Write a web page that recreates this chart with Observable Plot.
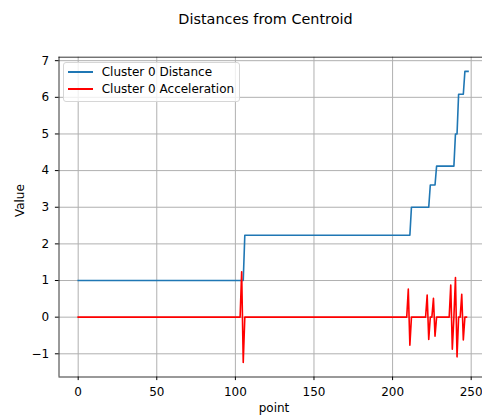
<!DOCTYPE html>
<html>
<head>
<meta charset="utf-8">
<script src="https://cdn.jsdelivr.net/npm/d3@7"></script>
<script src="https://cdn.jsdelivr.net/npm/@observablehq/plot@0.6"></script>
<style>
html, body { margin: 0; padding: 0; background: #fff; overflow: hidden; }
#wrap { position: relative; width: 482px; height: 417px; font-family: "DejaVu Sans", sans-serif; color: #000; }
#title { box-sizing: border-box; height: 40px; padding-top: 9px; padding-left: 49px; width: 482px; font-size: 14.4px; line-height: 20px; }
#title span { display: block; width: 433px; text-align: center; }
#chart svg { display: block; }
.legend-box { position: absolute; left: 63px; top: 62px; width: 177px; height: 40px; box-sizing: border-box;
  border: 1px solid #d6d6d6; border-radius: 3px; background: rgba(255,255,255,0.8); }
.sw { position: absolute; left: 68px; width: 25px; height: 2px; }
.lt { position: absolute; left: 101.7px; font-size: 12px; line-height: 14px; white-space: nowrap; }
</style>
</head>
<body>
<div id="wrap">
  <div id="title"><span>Distances from Centroid</span></div>
  <div id="chart"></div>
</div>
<script>
// Series: vertices of the polylines
const seriesNames = ["Cluster 0 Distance", "Cluster 0 Acceleration"];
const seriesColors = ["#1f77b4", "#ff0000"];

const distX = [0, 105, 106, 211, 212, 223, 224, 227, 228, 239, 240, 241, 242, 245, 246, 248];
const distY = [1, 1, 2.236, 2.236, 3, 3, 3.606, 3.606, 4.123, 4.123, 5, 5, 6.083, 6.083, 6.708, 6.708];

const accX = [0, 103, 104, 105, 106, 209, 210, 211, 212, 221, 222, 223, 224, 225, 226, 227, 228, 236, 237, 238, 239, 240, 241, 242, 243, 244, 245, 246, 247];
const accY = [0, 0, 1.236, -1.236, 0, 0, 0.764, -0.764, 0, 0, 0.606, -0.606, 0, 0, 0.517, -0.517, 0, 0, 0.877, -0.877, 0, 1.083, -1.083, 0, 0, 0.625, -0.625, 0, 0];

const xTicks = [0, 50, 100, 150, 200, 250];
const yTicks = [-1, 0, 1, 2, 3, 4, 5, 6, 7];
const xDomain = [-12.2, 257.2];
const yDomain = [-1.633, 7.095];
const xLabel = "point";
const yLabel = "Value";

const dist = distX.map((x, i) => ({x, y: distY[i]}));
const acc = accX.map((x, i) => ({x, y: accY[i]}));

const gridStyle = {stroke: "#b0b0b0", strokeOpacity: 1, strokeWidth: 1};
const lineStyle = {strokeWidth: 1.6, strokeLinecap: "square", strokeLinejoin: "round"};

const plot = Plot.plot({
  width: 482,
  height: 377,
  marginLeft: 58.5,
  marginRight: 0,
  marginTop: 16.7,
  marginBottom: 40.5,
  style: {fontFamily: "DejaVu Sans, sans-serif", fontSize: "12px", color: "#000", background: "#fff", overflow: "visible"},
  x: {domain: xDomain, label: null},
  y: {domain: yDomain, label: null},
  marks: [
    Plot.gridX(xTicks, gridStyle),
    Plot.gridY(yTicks, gridStyle),
    Plot.line(dist, {x: "x", y: "y", stroke: seriesColors[0], ...lineStyle}),
    Plot.line(acc, {x: "x", y: "y", stroke: seriesColors[1], ...lineStyle}),
    Plot.ruleX([xDomain[0]], {stroke: "#000", strokeWidth: 0.8}),
    Plot.ruleY(yDomain, {stroke: "#000", strokeWidth: 0.8}),
    Plot.axisX(xTicks, {tickSize: 3.6, tickPadding: 7.2, fontSize: 12, label: null, tickFormat: d => d3.format("d")(d)}),
    Plot.axisY(yTicks, {tickSize: 3.6, tickPadding: 6.2, fontSize: 12, label: null, tickFormat: d => d3.format("d")(d)}),
    Plot.text([xLabel], {text: d => d, frameAnchor: "bottom", dx: 3.25, dy: 31.5, fontSize: 12, lineAnchor: "middle"}),
    Plot.text([yLabel], {text: d => d, frameAnchor: "left", rotate: -90, dx: -38.5, fontSize: 12, lineAnchor: "middle"})
  ]
});
document.getElementById("chart").appendChild(plot);

// Legend
const wrap = document.getElementById("wrap");
const box = document.createElement("div");
box.className = "legend-box";
wrap.appendChild(box);
const rowsY = [72, 89];
seriesNames.forEach((name, i) => {
  const sw = document.createElement("div");
  sw.className = "sw";
  sw.style.top = (rowsY[i] - 1) + "px";
  sw.style.backgroundColor = seriesColors[i];
  wrap.appendChild(sw);
  const t = document.createElement("div");
  t.className = "lt";
  t.style.top = (rowsY[i] - 7.2) + "px";
  t.textContent = name;
  wrap.appendChild(t);
});
</script>
</body>
</html>
